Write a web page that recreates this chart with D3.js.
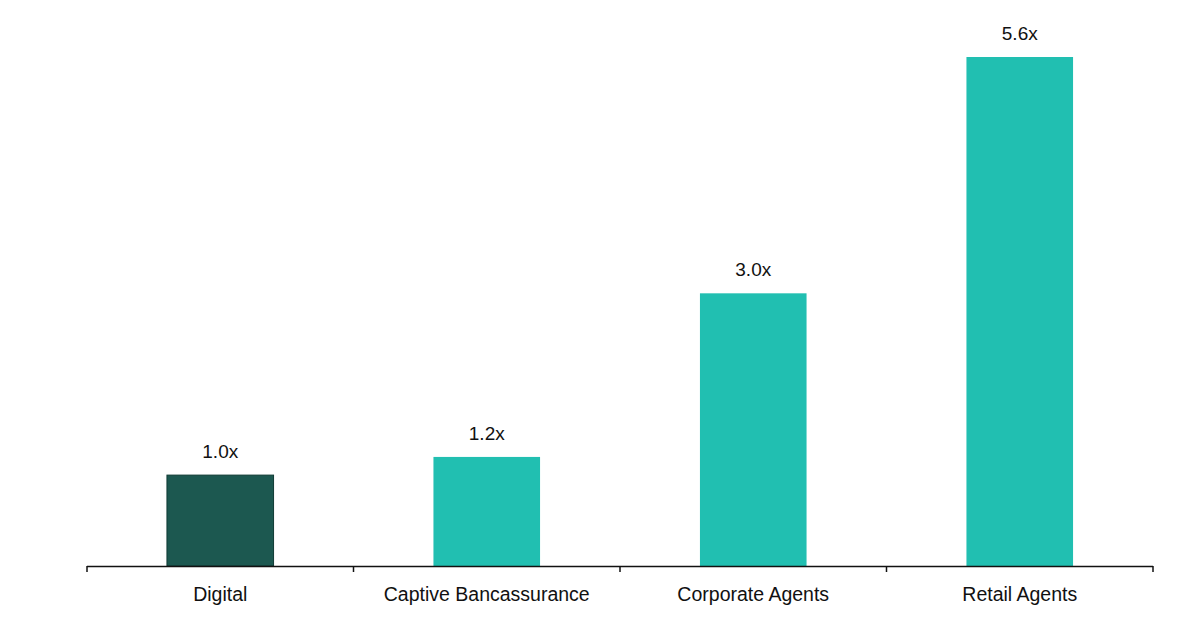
<!DOCTYPE html>
<html>
<head>
<meta charset="utf-8">
<script src="https://cdn.jsdelivr.net/npm/d3@7"></script>
<style>
  body { margin: 0; background: #fff; }
  text { font-family: 'Liberation Sans', Arial, sans-serif; fill: #111; }
</style>
</head>
<body>
<div id="chart"></div>
<script>
const categories = ['Digital', 'Captive Bancassurance', 'Corporate Agents', 'Retail Agents'];
const values = [1.0, 1.2, 3.0, 5.6];
const valueLabels = ['1.0x', '1.2x', '3.0x', '5.6x'];

const width = 1200;
const height = 642;
const margin = {top: 57, right: 47, bottom: 76, left: 87};

const svg = d3.select('#chart')
  .append('svg')
  .attr('width', width)
  .attr('height', height);

const x = d3.scaleBand()
  .domain(categories)
  .range([margin.left, width - margin.right])
  .paddingInner(0.6)
  .paddingOuter(0.3);

const y = d3.scaleLinear()
  .domain([0, 5.6])
  .range([height - margin.bottom, margin.top]);

const base = y(0);

// bars
svg.append('g')
  .selectAll('rect')
  .data(categories)
  .enter().append('rect')
    .attr('x', d => x(d))
    .attr('y', (d, i) => y(values[i]))
    .attr('width', x.bandwidth())
    .attr('height', (d, i) => base - y(values[i]))
    .style('fill', (d, i) => i === 0 ? '#1c5850' : '#21bfb1')
    .style('stroke', (d, i) => i === 0 ? '#0f3a34' : 'none')
    .style('stroke-width', 1);

// value labels
svg.append('g')
  .selectAll('text')
  .data(categories)
  .enter().append('text')
    .attr('x', d => x(d) + x.bandwidth() / 2)
    .attr('y', (d, i) => y(values[i]) - 17)
    .attr('text-anchor', 'middle')
    .style('font-size', '19px')
    .text((d, i) => valueLabels[i]);

// axis line with ticks at band boundaries
const edges = d3.range(categories.length + 1).map(i => margin.left + i * (width - margin.left - margin.right) / categories.length);

svg.append('line')
  .attr('x1', edges[0])
  .attr('x2', edges[edges.length - 1])
  .attr('y1', base + 0.5)
  .attr('y2', base + 0.5)
  .style('stroke', '#111')
  .style('stroke-width', 1.5);

svg.append('g')
  .selectAll('line')
  .data(edges)
  .enter().append('line')
    .attr('x1', d => d)
    .attr('x2', d => d)
    .attr('y1', base)
    .attr('y2', base + 6)
    .style('stroke', '#111')
    .style('stroke-width', 1.5);

// category labels
svg.append('g')
  .selectAll('text')
  .data(categories)
  .enter().append('text')
    .attr('x', d => x(d) + x.bandwidth() / 2)
    .attr('y', base + 35)
    .attr('text-anchor', 'middle')
    .style('font-size', '19.5px')
    .text(d => d);
</script>
</body>
</html>
